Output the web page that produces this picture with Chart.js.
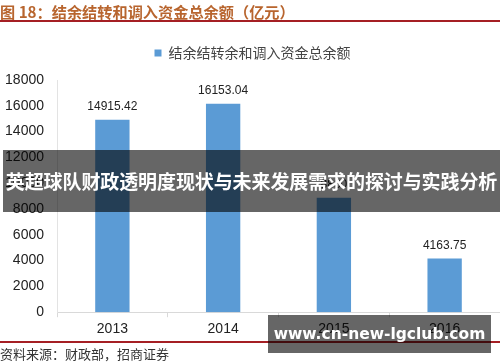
<!DOCTYPE html>
<html>
<head>
<meta charset="utf-8">
<script src="https://cdn.jsdelivr.net/npm/chart.js@4/dist/chart.umd.min.js"></script>
<style>
  body { margin: 0; background: #fff; }
  #wrap { position: relative; width: 500px; height: 362px; overflow: hidden; }
  #chart { position: absolute; left: 0; top: 0; }
  .title { position: absolute; left: 0; top: 0; height: 20px; line-height: 17px;
    font: bold 15.2px "Noto Sans CJK SC", sans-serif; color: #b8652e; white-space: nowrap; }
  .rule { position: absolute; left: 0; width: 500px; height: 2px; background: #a51f24; }
  .source { position: absolute; left: 0; top: 344px; font: 13px "Noto Sans CJK SC", serif; color: #333; white-space: nowrap; }
  .banner { position: absolute; left: 3px; top: 150px; width: 497px; height: 62px;
    background: rgba(0,0,0,0.6); color: #fff; font: bold 19px "Noto Sans CJK SC", sans-serif;
    line-height: 62px; text-align: center; white-space: nowrap; letter-spacing: -0.1px; }
  .mark { position: absolute; left: 268px; top: 315px; width: 223px; height: 38px;
    background: rgba(0,0,0,0.6); color: #fff; font: bold 15.5px "DejaVu Sans", sans-serif;
    line-height: 38px; text-align: center; white-space: nowrap; }
</style>
</head>
<body>
<div id="wrap">
  <canvas id="chart" width="500" height="362"></canvas>
  <div class="title">图 18：结余结转和调入资金总余额（亿元）</div>
  <div class="rule" style="top:20px"></div>
  <div class="rule" style="top:341px"></div>
  <div class="source">资料来源：财政部，招商证券</div>
  <div class="banner">英超球队财政透明度现状与未来发展需求的探讨与实践分析</div>
  <div class="mark">www.cn-new-lgclub.com</div>
</div>
<script>
// 数据
var years = ["2013", "2014", "2015", "2016"];
var balance = [14915.42, 16153.04, 8880, 4163.75];
var yTicks = [0, 2000, 4000, 6000, 8000, 10000, 12000, 14000, 16000, 18000];
var seriesName = "结余结转余和调入资金总余额";

// 图例下方留白
var legendGap = {
  id: "legendGap",
  beforeInit: function (chart) {
    var fit = chart.legend.fit;
    chart.legend.fit = function () {
      fit.bind(chart.legend)();
      this.height += 10;
    };
  }
};

// 柱顶数值
var valueLabels = {
  id: "valueLabels",
  afterDatasetsDraw: function (chart) {
    var ctx = chart.ctx;
    var meta = chart.getDatasetMeta(0);
    ctx.save();
    ctx.font = "12px 'Liberation Sans', Arial, sans-serif";
    ctx.fillStyle = "#222";
    ctx.textAlign = "center";
    ctx.textBaseline = "bottom";
    meta.data.forEach(function (bar, i) {
      var v = balance[i];
      ctx.fillText(v % 1 === 0 ? String(v) : v.toFixed(2), bar.x, bar.y - 7);
    });
    ctx.restore();
  }
};

new Chart(document.getElementById("chart"), {
  type: "bar",
  data: {
    labels: years,
    datasets: [{
      label: seriesName,
      data: balance,
      backgroundColor: "#5b9bd5",
      barPercentage: 0.62,
      categoryPercentage: 0.5
    }]
  },
  options: {
    responsive: false,
    animation: false,
    layout: { padding: { top: 34, left: 5, right: 0, bottom: 20 } },
    plugins: {
      legend: {
        labels: {
          boxWidth: 7, boxHeight: 7, padding: 12,
          color: "#444",
          font: { size: 14, family: "'Noto Sans CJK SC', serif" }
        }
      },
      tooltip: { enabled: false }
    },
    scales: {
      x: {
        grid: { display: true, drawOnChartArea: false, offset: true, tickLength: 5, color: "#d9d9d9" },
        border: { color: "#d9d9d9" },
        ticks: { color: "#222", padding: 4, font: { size: 14, family: "'Liberation Sans', Arial, sans-serif" } }
      },
      y: {
        min: 0, max: 18000,
        afterBuildTicks: function (axis) { axis.ticks = yTicks.map(function (v) { return { value: v }; }); },
        afterFit: function (axis) { axis.width = 52; },
        grid: { display: false, drawTicks: false },
        border: { color: "#e3e3e3" },
        ticks: {
          color: "#222", padding: 13,
          font: { size: 14, family: "'Liberation Sans', Arial, sans-serif" },
          callback: function (v) { return String(v); }
        }
      }
    }
  },
  plugins: [legendGap, valueLabels]
});
</script>
</body>
</html>
